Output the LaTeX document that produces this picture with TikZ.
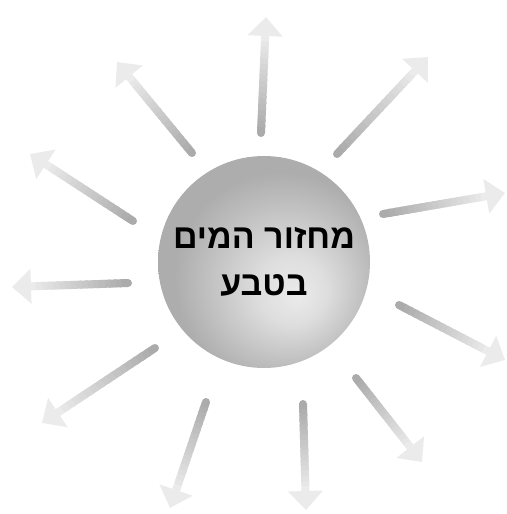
\documentclass[tikz,border=0pt]{standalone}
\usepackage{fontspec}
\usepackage{tikz}
\usetikzlibrary{arrows.meta,calc}
\TeXXeTstate=1
\newfontfamily\hebfont[Script=Hebrew]{Liberation Sans}
\pgfdeclareradialshading{sphereshade}{\pgfpoint{8bp}{-8bp}}{%
  color(0bp)=(gray!16); color(8bp)=(gray!26); color(25bp)=(gray!64);
  color(50bp)=(gray!64)}

\begin{document}
\begin{tikzpicture}[x=1pt, y=-1pt,
  sphere/.style={circle, shading=sphereshade, minimum size=212pt,
    inner sep=0pt, align=center,
    font=\hebfont\bfseries\fontsize{34}{47}\selectfont},
  raytip/.style={line width=8pt, draw=gray!16,
    -{Triangle[length=19pt, width=34pt, fill=gray!16]}}]
  \useasboundingbox (0,0) rectangle (506,514);
  \node[sphere] (sun) at (264,262)
    {\beginR מחזור המים\endR\\\beginR בטבע\endR};
  % rays: start / tip
  \foreach \i/\sx/\sy/\tx/\ty in {1/261/133/266/17, 2/192/153/117/62,
      3/337/154/428/57, 4/133/221/30/154, 5/383/214/505/193,
      6/128/283/12/287, 7/399/305/505/360, 8/155/348/42/423,
      9/356/378/422/462, 10/206/402/170/508, 11/303/404/306/510} {
    \coordinate (s\i) at (\sx,\sy);
    \coordinate (t\i) at (\tx,\ty);
    \coordinate (b\i) at ($(t\i)!24pt!(s\i)$);
    \fill[gray!66] (s\i) circle (4pt);
    \foreach \k in {0,...,15} {
      \pgfmathsetmacro\shade{66-3.1*\k}
      \draw[line width=8pt, draw=gray!\shade]
        ($(s\i)!\k/16!(b\i)$) -- ($(s\i)!{min(1,(\k+1.4)/16)}!(b\i)$);
    }
    \draw[raytip] (b\i) -- (t\i);
  }
\end{tikzpicture}
\end{document}
